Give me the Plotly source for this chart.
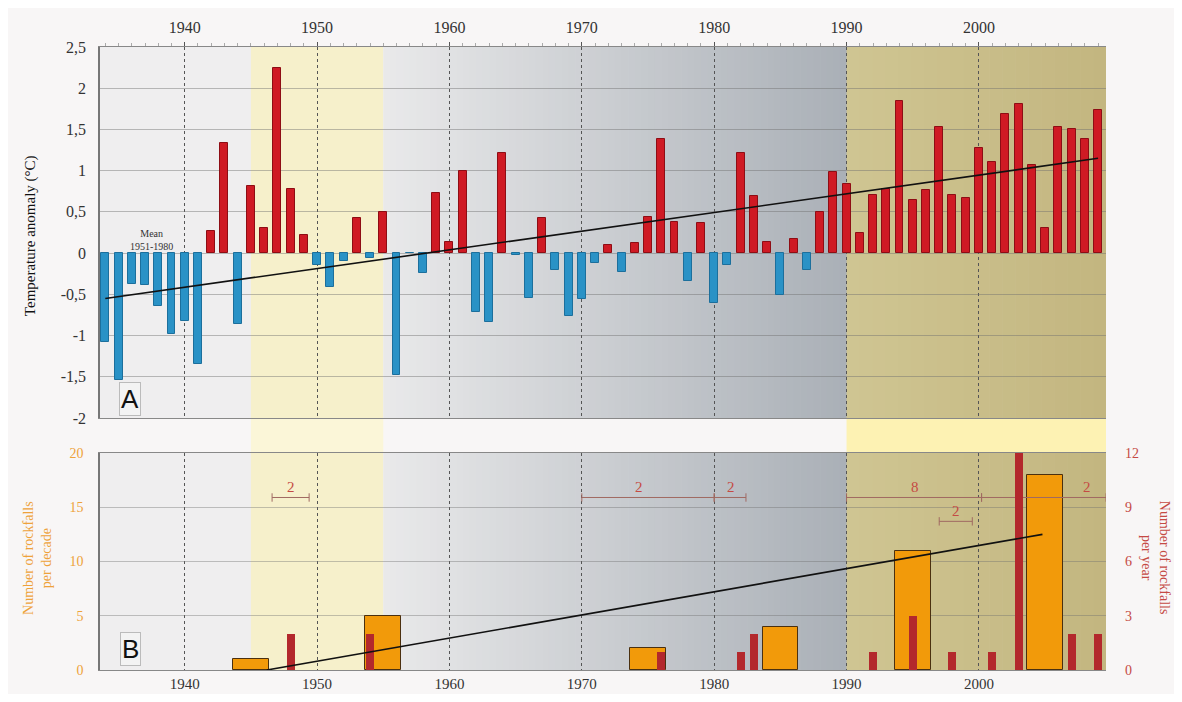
import plotly.graph_objects as go

# ---------------- data ----------------
years = list(range(1934, 2010))
anomaly = [
    -1.08, -1.54, -0.38, -0.39, -0.64, -0.98, -0.82, -1.34, 0.27, 1.34,   # 1934-1943
    -0.86, 0.82, 0.30, 2.24, 0.78, 0.22, -0.15, -0.41, -0.10, 0.42,      # 1944-1953
    -0.06, 0.50, -1.48, 0.00, -0.24, 0.73, 0.14, 0.99, -0.71, -0.83,     # 1954-1963
    1.22, -0.02, -0.54, 0.42, -0.20, -0.76, -0.56, -0.12, 0.10, -0.23,   # 1964-1973
    0.12, 0.44, 1.39, 0.38, -0.34, 0.36, -0.61, -0.15, 1.21, 0.69,       # 1974-1983
    0.14, -0.51, 0.17, -0.21, 0.50, 0.98, 0.84, 0.25, 0.71, 0.78,        # 1984-1993
    1.84, 0.64, 0.76, 1.53, 0.71, 0.67, 1.27, 1.11, 1.69, 1.81,          # 1994-2003
    1.07, 0.30, 1.53, 1.50, 1.39, 1.73                                    # 2004-2009
]
trend_a_years = [1934, 2009]
trend_a_vals = [-0.55, 1.15]

decades = [1945, 1955, 1965, 1975, 1985, 1995, 2005]
rockfalls_decade = [1, 5, 0, 2, 4, 11, 18]

rf_years = [1948, 1954, 1976, 1982, 1983, 1992, 1995, 1998, 2001, 2003, 2007, 2009]
rockfalls_year = [2, 2, 1, 1, 2, 1, 3, 1, 1, 12, 2, 2]

trend_b_years = [1946.2, 2004.8]
trend_b_vals = [0, 12.5]   # rockfalls per decade

bracket_x0 = [1946.6, 1970.0, 1980.0, 1990.0, 2000.2, 1997.0]
bracket_x1 = [1949.4, 1980.0, 1982.4, 2000.2, 2009.6, 1999.5]
bracket_y = [15.9, 15.9, 15.9, 15.9, 15.9, 13.7]
bracket_text = ["2", "2", "2", "8", "2", "2"]
bracket_text_x = [1948.0, 1974.3, 1981.3, 1995.2, 2008.2, 1998.3]

a_ticks = [-2, -1.5, -1, -0.5, 0, 0.5, 1, 1.5, 2, 2.5]
a_ticktext = ["-2", "-1,5", "-1", "-0,5", "0", "0,5", "1", "1,5", "2", "2,5"]

# ---------------- styling ----------------
XR = [1933.6, 2009.6]
SERIF = "Liberation Serif"
RED = "#cf1a24"
BLUE = "#2a92c6"
ORANGE_TXT = "#eea23a"
RED_TXT = "#c54a44"

fig = go.Figure()

bar_colors = [RED if v > 0 else BLUE for v in anomaly]
edge_colors = ["#8e0d14" if v > 0 else "#1c6f9c" for v in anomaly]
fig.add_trace(go.Bar(x=years, y=anomaly, width=0.6, marker=dict(color=bar_colors,
                     line=dict(color=edge_colors, width=1)), xaxis="x", yaxis="y",
                     showlegend=False))
fig.add_trace(go.Scatter(x=trend_a_years, y=trend_a_vals, mode="lines",
                         line=dict(color="#111", width=1.6), xaxis="x", yaxis="y",
                         showlegend=False))

fig.add_trace(go.Bar(x=decades, y=rockfalls_decade, width=2.7,
                     marker=dict(color="#f29a0a",
                                 line=dict(color="#4a3010",
                                           width=[1 if v > 0 else 0 for v in rockfalls_decade])),
                     xaxis="x2", yaxis="y2", showlegend=False))

for x0, x1, yv in zip(bracket_x0, bracket_x1, bracket_y):
    fig.add_trace(go.Scatter(x=[x0, x1], y=[yv, yv], mode="lines+markers",
                             line=dict(color="#a06a62", width=1),
                             marker=dict(symbol="line-ns-open", size=6,
                                         line=dict(color="#7a5a52", width=1)),
                             xaxis="x2", yaxis="y2", showlegend=False))

fig.add_trace(go.Bar(x=rf_years, y=rockfalls_year, width=0.6,
                     marker=dict(color="#b3282c", line=dict(width=0)),
                     xaxis="x2", yaxis="y3", showlegend=False))
fig.add_trace(go.Scatter(x=trend_b_years, y=[v * 12 / 20 for v in trend_b_vals],
                         mode="lines", line=dict(color="#111", width=1.6),
                         xaxis="x2", yaxis="y3", showlegend=False))

# ---------------- background shading ----------------
def lerp(c1, c2, t):
    return "#%02x%02x%02x" % tuple(round(a + (b - a) * t) for a, b in zip(c1, c2))

shapes = []
for yref in ["y domain", "y2 domain"]:
    shapes.append(dict(type="rect", xref="x", yref=yref, x0=XR[0], x1=1945, y0=0, y1=1,
                       fillcolor="#efeeef", line=dict(width=0), layer="below"))
    shapes.append(dict(type="rect", xref="x", yref=yref, x0=1945, x1=1955, y0=0, y1=1,
                       fillcolor="#f6f0cb", line=dict(width=0), layer="below"))
    n = 70
    for i in range(n):
        x0 = 1955 + 35 * i / n
        x1 = 1955 + 35 * (i + 1) / n + 0.05
        shapes.append(dict(type="rect", xref="x", yref=yref, x0=x0, x1=x1, y0=0, y1=1,
                           fillcolor=lerp((0xe9, 0xe9, 0xea), (0xaa, 0xb0, 0xb7), i / (n - 1)),
                           line=dict(width=0), layer="below"))
    m = 20
    for i in range(m):
        x0 = 1990 + (XR[1] - 1990) * i / m
        x1 = 1990 + (XR[1] - 1990) * (i + 1) / m + 0.05
        shapes.append(dict(type="rect", xref="x", yref=yref, x0=x0, x1=min(x1, XR[1]), y0=0, y1=1,
                           fillcolor=lerp((0xcf, 0xc5, 0x92), (0xc3, 0xb6, 0x80), i / (m - 1)),
                           line=dict(width=0), layer="below"))

GAP_LO, GAP_HI = 0.3483, 0.4045
shapes.append(dict(type="rect", xref="x", yref="paper", x0=1945, x1=1955, y0=GAP_LO, y1=GAP_HI,
                   fillcolor="#fbf6d8", line=dict(width=0), layer="below"))
shapes.append(dict(type="rect", xref="x", yref="paper", x0=1990, x1=XR[1], y0=GAP_LO, y1=GAP_HI,
                   fillcolor="#fdf2b3", line=dict(width=0), layer="below"))

# ---------------- annotations ----------------
ann = []
ann.append(dict(x=1937.5, y=0.16, xref="x", yref="y", text="Mean<br>1951-1980", showarrow=False,
                font=dict(family=SERIF, size=10, color="#333")))
ann.append(dict(x=1935.9, y=-1.77, xref="x", yref="y", text="A", showarrow=False,
                font=dict(family="Liberation Sans", size=26, color="#111"),
                bgcolor="#f3f3f3", bordercolor="#bbbbbb", borderwidth=1, borderpad=1))
ann.append(dict(x=1935.9, y=1.95, xref="x2", yref="y2", text="B", showarrow=False,
                font=dict(family="Liberation Sans", size=26, color="#111"),
                bgcolor="#f3f3f3", bordercolor="#bbbbbb", borderwidth=1, borderpad=1))
for tx, yv, t in zip(bracket_text_x, bracket_y, bracket_text):
    ann.append(dict(x=tx, y=yv, xref="x2", yref="y2", text=t, showarrow=False, yshift=10,
                    font=dict(family=SERIF, size=15, color=RED_TXT)))
ann.append(dict(x=-0.0696, y=0.698, xref="paper", yref="paper", text="Temperature anomaly (°C)",
                xanchor="center", yanchor="middle",
                textangle=-90, showarrow=False, font=dict(family=SERIF, size=15, color="#111")))
ann.append(dict(x=-0.0616, y=0.18, xref="paper", yref="paper",
                xanchor="center", yanchor="middle",
                text="Number of rockfalls<br>per decade", textangle=-90, showarrow=False,
                font=dict(family=SERIF, size=14, color=ORANGE_TXT)))
ann.append(dict(x=1.0487, y=0.18, xref="paper", yref="paper",
                xanchor="center", yanchor="middle",
                text="Number of rockfalls<br>per year", textangle=90, showarrow=False,
                font=dict(family=SERIF, size=14, color=RED_TXT)))

axfont = dict(family=SERIF, size=16, color="#333")
botfont = dict(family=SERIF, size=15, color="#333")
fig.update_layout(
    width=1166, height=686,
    margin=dict(l=92, r=68, t=39, b=24, autoexpand=False),
    paper_bgcolor="#f8f6f6", plot_bgcolor="rgba(0,0,0,0)",
    bargap=0, barmode="overlay",
    shapes=shapes, annotations=ann, showlegend=False,
    xaxis=dict(domain=[0, 1], anchor="y", side="top", range=XR, tick0=1940, dtick=10,
               ticks="outside", ticklen=4, tickcolor="#555", tickfont=axfont,
               ticklabelstandoff=3, automargin=False,
               minor=dict(dtick=1, tick0=1930, ticks="outside", ticklen=3, tickcolor="#aaa",
                          showgrid=False),
               showgrid=True, griddash="dot", gridcolor="#555", gridwidth=1,
               showline=True, linecolor="#888", linewidth=1.2, mirror=True, zeroline=False),
    xaxis2=dict(domain=[0, 1], anchor="y2", matches="x", range=XR, tick0=1940, dtick=10,
                ticks="", tickfont=botfont, ticklabelstandoff=0, automargin=False,
                showgrid=True, griddash="dot", gridcolor="#555", gridwidth=1,
                showline=True, linecolor="#888", linewidth=1.2, mirror=True, zeroline=False),
    yaxis=dict(domain=[0.4045, 1], anchor="x", range=[-2, 2.5], tickvals=a_ticks,
               ticktext=a_ticktext, tickfont=axfont, ticks="", ticklabelstandoff=9,
               automargin=False,
               showgrid=True, gridcolor="rgba(110,110,110,0.45)", gridwidth=1,
               showline=True, linecolor="#777", linewidth=1.5, zeroline=False),
    yaxis2=dict(domain=[0, 0.3483], anchor="x2", range=[0, 20], tick0=0, dtick=5,
                tickfont=dict(family=SERIF, size=14, color=ORANGE_TXT), ticks="",
                ticklabelstandoff=12, automargin=False,
                showgrid=True, gridcolor="rgba(110,110,110,0.4)", gridwidth=1,
                showline=True, linecolor="#777", linewidth=1.5, zeroline=False),
    yaxis3=dict(overlaying="y2", anchor="x2", side="right", range=[0, 12], tick0=0, dtick=3,
                tickfont=dict(family=SERIF, size=14, color=RED_TXT), ticks="",
                ticklabelstandoff=18, automargin=False,
                showgrid=False, zeroline=False, showline=False),
)

fig.write_html("out.html")
